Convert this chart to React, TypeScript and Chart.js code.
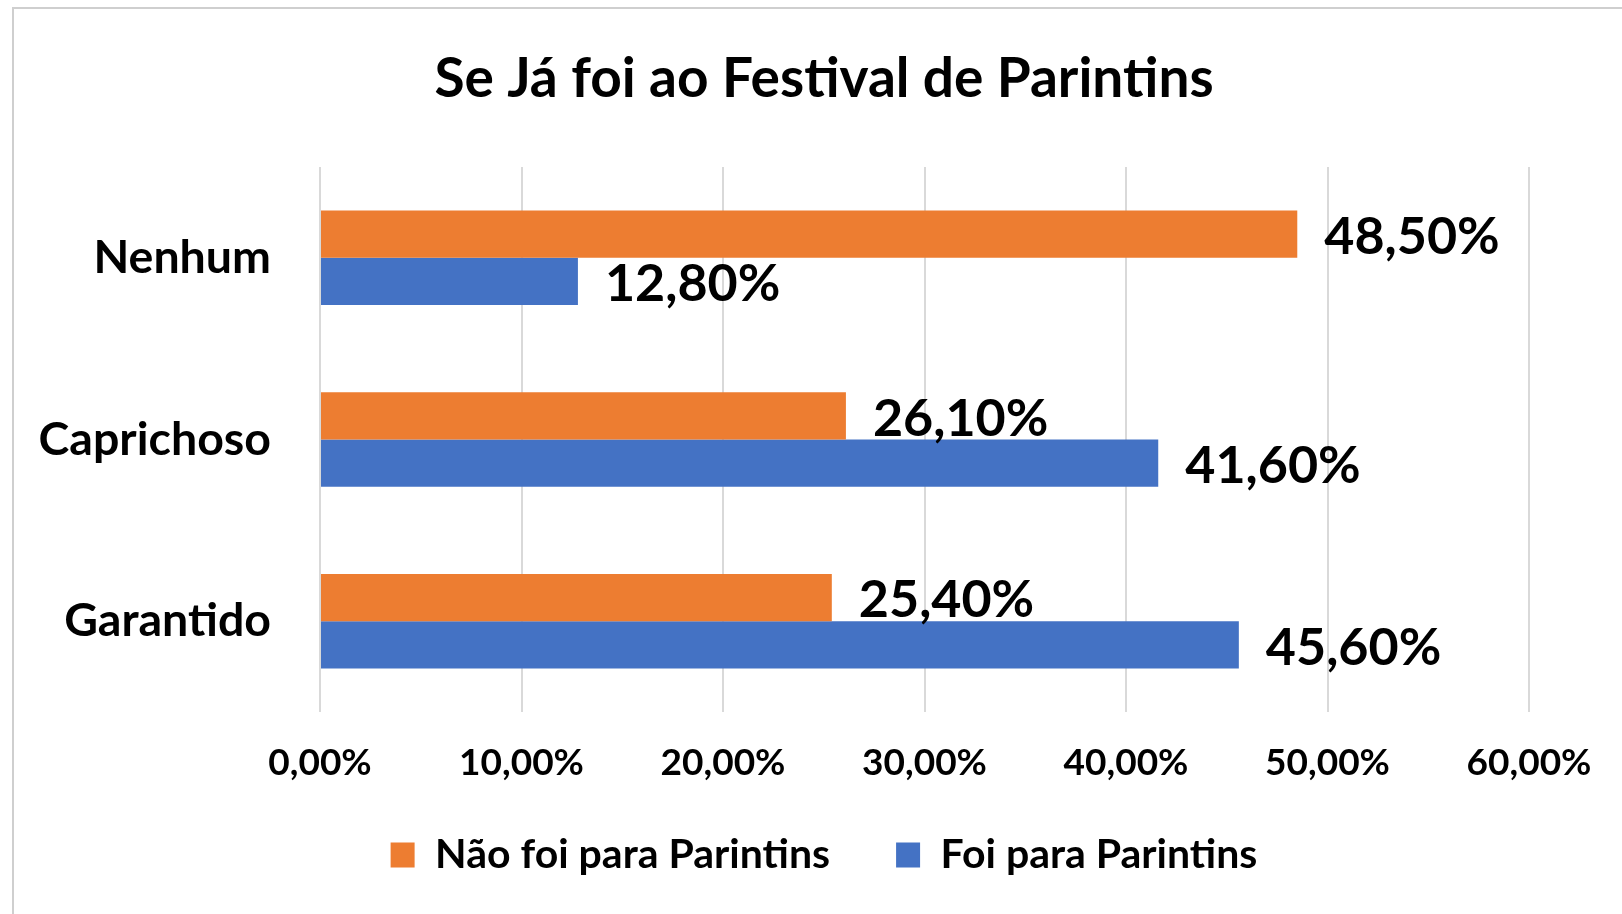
import React, { useEffect, useRef } from 'react';
import { Chart, registerables } from 'chart.js';

Chart.register(...registerables);

const chartTitle = 'Se Já foi ao Festival de Parintins';
const categories = ['Nenhum', 'Caprichoso', 'Garantido'];
const seriesNames = ['Não foi para Parintins', 'Foi para Parintins'];
const naoFoiValues = [48.5, 26.1, 25.4];
const foiValues = [12.8, 41.6, 45.6];
const xMin = 0;
const xMax = 60;
const xStep = 10;

const ORANGE = '#ED7D31';
const BLUE = '#4472C4';
const FONT = 'Lato, "Open Sans", sans-serif';

const fmtPct = (v: number) => v.toFixed(2).replace('.', ',') + '%';

const dataLabelPlugin = {
  id: 'dataLabelPlugin',
  afterDatasetsDraw(chart: any) {
    const ctx = chart.ctx;
    ctx.save();
    ctx.font = `bold 52px ${FONT}`;
    ctx.fillStyle = '#000';
    ctx.textAlign = 'left';
    ctx.textBaseline = 'middle';
    chart.data.datasets.forEach((ds: any, i: number) => {
      const meta = chart.getDatasetMeta(i);
      meta.data.forEach((el: any, j: number) => {
        ctx.fillText(fmtPct(ds.data[j]), el.x + 27, el.y + 3);
      });
    });
    ctx.restore();
  },
};

export default function App() {
  const canvasRef = useRef<HTMLCanvasElement | null>(null);

  useEffect(() => {
    if (!canvasRef.current) return;
    const chart = new Chart(canvasRef.current, {
      type: 'bar',
      data: {
        labels: categories,
        datasets: [
          { label: seriesNames[0], data: naoFoiValues, backgroundColor: ORANGE, borderWidth: 0 },
          { label: seriesNames[1], data: foiValues, backgroundColor: BLUE, borderWidth: 0 },
        ],
      },
      options: {
        indexAxis: 'y',
        responsive: false,
        animation: false,
        devicePixelRatio: 1,
        datasets: { bar: { barPercentage: 1.0, categoryPercentage: 0.52 } },
        layout: { padding: { left: 26, right: 0, top: 0, bottom: 28.5 } },
        scales: {
          x: {
            min: xMin,
            max: xMax,
            ticks: {
              stepSize: xStep,
              callback: (v: any) => fmtPct(Number(v)),
              color: '#000',
              font: { family: FONT, size: 37, weight: 'bold' },
              padding: 29,
              maxRotation: 0,
            },
            grid: { color: '#d9d9d9', lineWidth: 2, drawTicks: false },
            border: { display: false },
            afterFit: (scale: any) => {
              scale.height = 56.5;
              scale._computeLabelArea = () => undefined;
            },
          },
          y: {
            ticks: {
              color: '#000',
              font: { family: FONT, size: 46.5, weight: 'bold' },
              padding: 49,
            },
            grid: { display: false, drawTicks: false },
            border: { display: false },
            afterFit: (scale: any) => { scale.width = 294; },
          },
          yRight: {
            type: 'category',
            position: 'right',
            display: true,
            ticks: { display: false },
            grid: { display: false, drawTicks: false },
            border: { display: false },
            afterFit: (scale: any) => { scale.width = 93; },
          },
        },
        plugins: {
          title: {
            display: true,
            text: chartTitle,
            color: '#000',
            font: { family: FONT, size: 55, weight: 'bold' },
            padding: { top: 46, bottom: 55 },
          },
          legend: {
            position: 'bottom',
            labels: {
              color: '#000',
              font: { family: FONT, size: 41, weight: 'bold' },
              boxWidth: 24,
              boxHeight: 25,
              padding: 66,
            },
          },
          tooltip: { enabled: false },
        },
      },
      plugins: [dataLabelPlugin],
    } as any);
    return () => chart.destroy();
  }, []);

  return (
    <div style={{ position: 'fixed', left: 0, top: 0, width: 1622, height: 914, background: '#fff', overflow: 'hidden' }}>
      <div style={{ position: 'absolute', left: 12, top: 7, width: 1700, height: 1000, borderLeft: '2px solid #cfcfcf', borderTop: '2px solid #cfcfcf' }} />
      <canvas ref={canvasRef} width={1622} height={914} style={{ position: 'absolute', left: 0, top: 0, width: 1622, height: 914 }} />
    </div>
  );
}
